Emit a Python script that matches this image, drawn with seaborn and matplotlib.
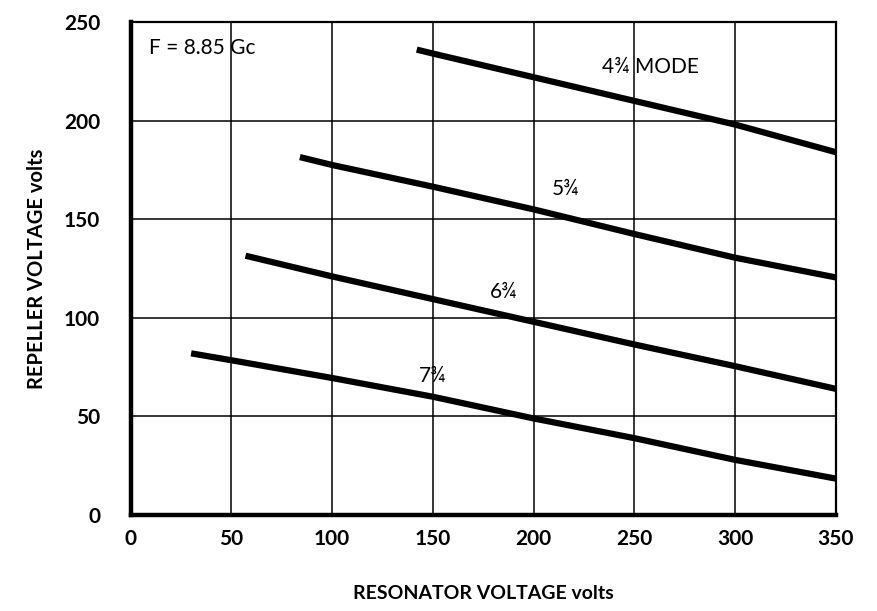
import pandas as pd
import seaborn as sns
import matplotlib.pyplot as plt

# resonator voltage (x) and repeller voltage (y) for each reflex mode
mode_names = ['4¾ MODE', '5¾', '6¾', '7¾']

x_4 = [142, 150, 200, 250, 300, 350]
y_4 = [236, 234, 222, 210, 198, 184]

x_5 = [84, 100, 150, 200, 250, 300, 350]
y_5 = [181.5, 177.5, 166.5, 155, 142.5, 130.5, 120.5]

x_6 = [57, 100, 150, 200, 250, 300, 350]
y_6 = [131.5, 121, 109.5, 98, 86.5, 75.5, 64]

x_7 = [30, 50, 100, 150, 200, 250, 300, 350]
y_7 = [82, 78.5, 69.5, 60, 49, 39, 28, 18.5]

# label positions (x, y) in data units
label_x = [258, 216, 185, 150]
label_y = [227, 165.5, 113, 70.5]

x_ticks = [0, 50, 100, 150, 200, 250, 300, 350]
y_ticks = [0, 50, 100, 150, 200, 250]

frames = []
for name, xs, ys in zip(mode_names, [x_4, x_5, x_6, x_7], [y_4, y_5, y_6, y_7]):
    frames.append(pd.DataFrame({'Resonator': xs, 'Repeller': ys, 'Mode': name}))
df = pd.concat(frames, ignore_index=True)

sns.set_style('white')
plt.rcParams['font.family'] = ['Lato', 'DejaVu Sans']
plt.rcParams['text.color'] = 'black'
plt.rcParams['axes.labelcolor'] = 'black'

fig = plt.figure(figsize=(8.77, 6.11), dpi=100)
ax = fig.add_axes([0.149, 0.157, 0.804, 0.807])

sns.lineplot(data=df, x='Resonator', y='Repeller', hue='Mode', units='Mode',
             estimator=None, palette=['black'] * 4, linewidth=4.5,
             legend=False, ax=ax, solid_capstyle='butt')

ax.set_xlim(0, 350)
ax.set_ylim(0, 250)
ax.set_xticks(x_ticks)
ax.set_yticks(y_ticks)
ax.grid(True, color='black', linewidth=1.1)
ax.set_axisbelow(True)
ax.tick_params(axis='both', length=0, labelsize=15, colors='black')
ax.tick_params(axis='x', pad=10)
ax.tick_params(axis='y', pad=22)
for lab in ax.get_xticklabels() + ax.get_yticklabels():
    lab.set_fontweight('bold')

for side in ['left', 'bottom']:
    ax.spines[side].set_linewidth(3.2)
for side in ['top', 'right']:
    ax.spines[side].set_linewidth(1.6)
for s in ax.spines.values():
    s.set_color('black')

ax.set_xlabel('RESONATOR VOLTAGE volts', fontsize=14, fontweight='bold', labelpad=26)
ax.set_ylabel('REPELLER VOLTAGE volts', fontsize=14.5, fontweight='bold', labelpad=12)

ax.text(9, 237, 'F = 8.85 Gc', fontsize=15, ha='left', va='center')
for name, lx, ly in zip(mode_names, label_x, label_y):
    ax.text(lx, ly, name, fontsize=15, ha='center', va='center')

plt.savefig('out.png', dpi=100)
plt.close()
